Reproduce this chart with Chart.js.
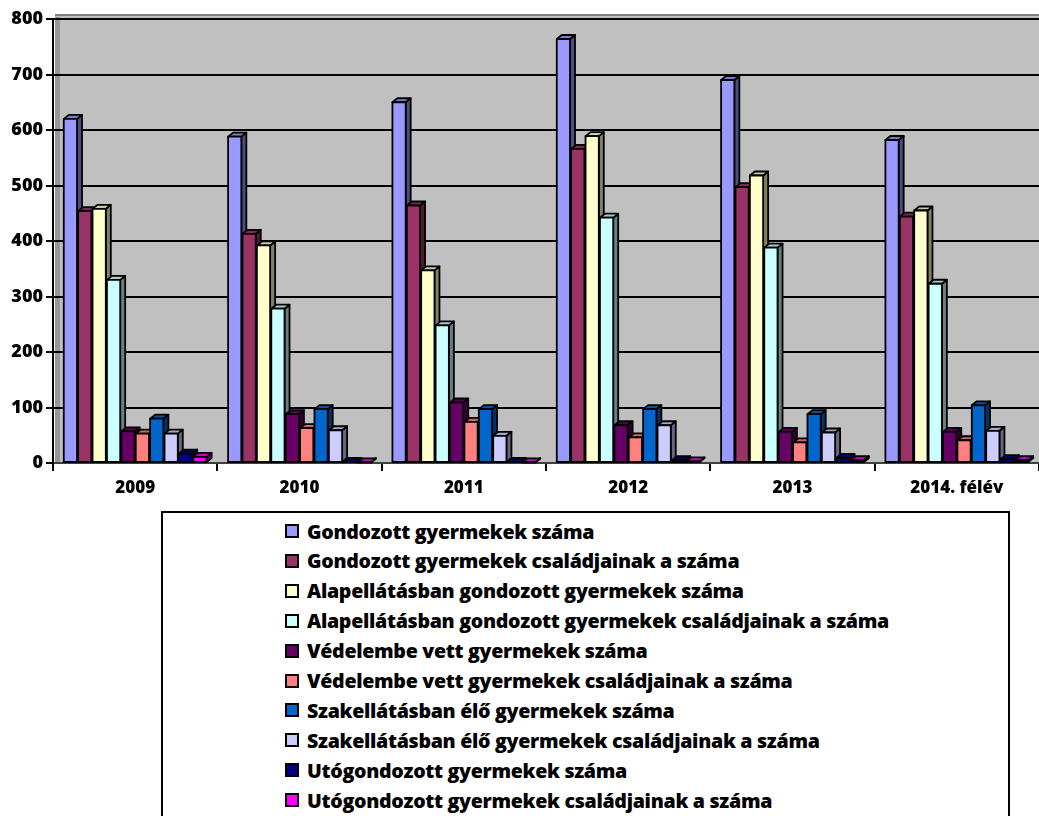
<!DOCTYPE html>
<html><head><meta charset="utf-8">
<script src="https://cdn.jsdelivr.net/npm/chart.js@4"></script>
<style>
html,body{margin:0;padding:0;background:#fff;}
#wrap{position:relative;width:1039px;height:816px;overflow:hidden;}
#c{position:absolute;left:0;top:0;}
#legend{position:absolute;left:161px;top:511px;width:849px;height:330px;border:2px solid #000;box-sizing:border-box;font-family:'Open Sans',sans-serif;font-weight:800;font-size:19.6px;letter-spacing:-0.3px;color:#000;background:#fff;}
.item{position:absolute;left:122px;height:30px;display:flex;align-items:center;white-space:nowrap;}
.box{width:10px;height:10px;border:2px solid #000;margin-right:8px;flex:none;}
</style></head>
<body>
<div id="wrap">
<canvas id="c" width="1039" height="816"></canvas>
<div id="legend"></div>
</div>
<script>
const categories = ['2009','2010','2011','2012','2013','2014. félév'];
const seriesLabels = [
  'Gondozott gyermekek száma',
  'Gondozott gyermekek családjainak a száma',
  'Alapellátásban gondozott gyermekek száma',
  'Alapellátásban gondozott gyermekek családjainak a száma',
  'Védelembe vett gyermekek száma',
  'Védelembe vett gyermekek családjainak a száma',
  'Szakellátásban élő gyermekek száma',
  'Szakellátásban élő gyermekek családjainak a száma',
  'Utógondozott gyermekek száma',
  'Utógondozott gyermekek családjainak a száma'
];
const gondozott      = [620, 588, 650, 764, 690, 582];
const gondozottCsal  = [454, 413, 464, 566, 497, 444];
const alap           = [458, 392, 347, 589, 518, 455];
const alapCsal       = [330, 278, 248, 442, 388, 323];
const vedelem        = [57, 88, 109, 68, 56, 56];
const vedelemCsal    = [53, 63, 74, 46, 37, 41];
const szak           = [80, 97, 97, 97, 88, 104];
const szakCsal       = [53, 59, 49, 68, 55, 58];
const uto            = [17, 2, 2, 5, 9, 7];
const utoCsal        = [11, 1, 1, 3, 5, 5];
const seriesColors = ['#9999FF','#993366','#FFFFCC','#CCFFFF','#660066','#FF8080','#0066CC','#CCCCFF','#000080','#FF00FF'];
const yMin = 0, yMax = 800, yStep = 100;

const allSeries = [gondozott, gondozottCsal, alap, alapCsal, vedelem, vedelemCsal, szak, szakCsal, uto, utoCsal];

function shade(hex, f){
  const n = parseInt(hex.slice(1),16);
  const r = Math.round(((n>>16)&255)*f), g = Math.round(((n>>8)&255)*f), b = Math.round((n&255)*f);
  return `rgb(${r},${g},${b})`;
}

const plotBg = {
  id:'plotBg',
  beforeDraw(chart){
    const {ctx, chartArea:a} = chart;
    ctx.save();
    ctx.fillStyle = '#C0C0C0';
    ctx.fillRect(a.left+2, a.top-4, a.right-a.left, a.bottom-a.top+4);
    ctx.fillStyle = '#969696';
    ctx.fillRect(a.left+2, a.top-2, 5, a.bottom-a.top+2);
    ctx.fillStyle = '#808080';
    ctx.fillRect(a.left+2, a.top-5, a.right-a.left, 2);
    ctx.restore();
  }
};

const threeD = {
  id:'threeD',
  afterDatasetsDraw(chart){
    const ctx = chart.ctx; const dx = 5, dy = 4;
    ctx.save();
    chart.data.datasets.forEach((ds,i)=>{
      const meta = chart.getDatasetMeta(i);
      meta.data.forEach(bar=>{
        const {x,y,base,width} = bar.getProps(['x','y','base','width'], true);
        const l = x-width/2, r = x+width/2;
        ctx.lineWidth = 1.8; ctx.strokeStyle = '#000'; ctx.lineJoin = 'round';
        ctx.beginPath(); ctx.moveTo(r,y); ctx.lineTo(r+dx,y-dy); ctx.lineTo(r+dx,base-dy); ctx.lineTo(r,base); ctx.closePath();
        ctx.fillStyle = shade(ds.backgroundColor,0.5); ctx.fill(); ctx.stroke();
        ctx.beginPath(); ctx.moveTo(l,y); ctx.lineTo(l+dx,y-dy); ctx.lineTo(r+dx,y-dy); ctx.lineTo(r,y); ctx.closePath();
        ctx.fillStyle = shade(ds.backgroundColor,0.8); ctx.fill(); ctx.stroke();
        ctx.fillStyle = ds.backgroundColor;
        ctx.fillRect(l,y,width,base-y);
        ctx.strokeRect(l,y,width,base-y);
      });
    });
    ctx.restore();
  }
};

const chart = new Chart(document.getElementById('c'), {
  type:'bar',
  data:{
    labels: categories,
    datasets: allSeries.map((d,i)=>({
      label: seriesLabels[i],
      data: d,
      backgroundColor: seriesColors[i],
      borderColor:'#000',
      borderWidth:1.5,
      categoryPercentage:0.876,
      barPercentage:0.92
    }))
  },
  options:{
    responsive:false,
    animation:false,
    devicePixelRatio:1,
    layout:{padding:{top:19, bottom:308, left:0, right:0}},
    plugins:{legend:{display:false}, tooltip:{enabled:false}},
    scales:{
      x:{
        afterFit(s){ s.height = 45; },
        grid:{display:true, drawOnChartArea:false, drawTicks:true, tickLength:8, color:'#000', lineWidth:2, offset:true},
        border:{display:true, color:'#404040', width:2},
        ticks:{color:'#000', font:{family:'Open Sans', weight:'800', size:17}, padding:7, maxRotation:0, autoSkip:false}
      },
      y:{
        min:yMin, max:yMax,
        afterFit(s){ s.width = 53; },
        grid:{color:(c)=> c.tick && c.tick.value===0 ? 'rgba(0,0,0,0)' : '#000', lineWidth:2, drawTicks:true, tickLength:7, tickColor:'#000'},
        border:{display:true, color:'#000', width:2},
        ticks:{stepSize:yStep, color:'#000', font:{family:'Open Sans', weight:'800', size:18}, padding:3}
      }
    }
  },
  plugins:[plotBg, threeD]
});

const lg = document.getElementById('legend');
chart.data.datasets.forEach((ds,i)=>{
  const it = document.createElement('div');
  it.className = 'item';
  it.style.top = (3 + i*29.9) + 'px';
  const b = document.createElement('span');
  b.className = 'box'; b.style.background = ds.backgroundColor;
  const t = document.createElement('span');
  t.textContent = ds.label;
  it.appendChild(b); it.appendChild(t);
  lg.appendChild(it);
});
</script>
</body></html>
